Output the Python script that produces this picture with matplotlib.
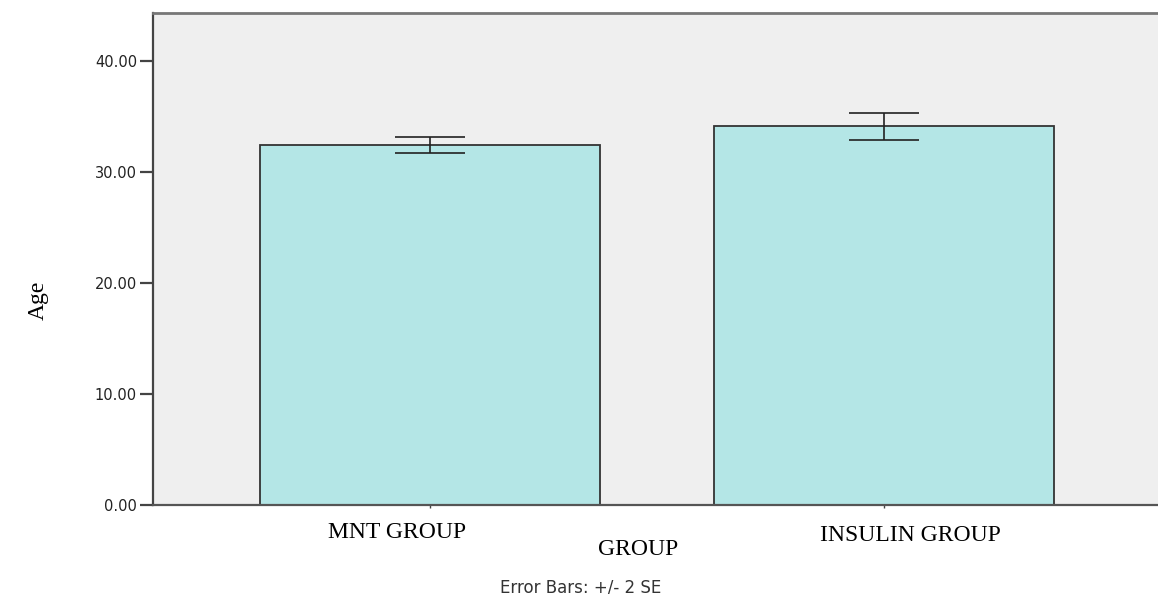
import matplotlib
matplotlib.use("Agg")
import matplotlib.pyplot as plt
import numpy as np

# mean age per group, with +/- 2 SE half-widths
groups = ["MNT GROUP", "INSULIN GROUP"]
mean_age = [32.43, 34.10]
err_2se = [0.75, 1.22]
yticks = [0, 10, 20, 30, 40]

W, H = 1158, 594
fig = plt.figure(figsize=(W / 100, H / 100), dpi=100)
ax = fig.add_axes([153 / W, (H - 505) / H, 1 - 153 / W, (505 - 13) / H])
ax.set_facecolor("#efefef")

x = np.arange(len(groups))
ax.bar(x, mean_age, width=0.75, color="#b4e6e6", edgecolor="#333333", linewidth=1.3, zorder=2)
ax.errorbar(x, mean_age, yerr=err_2se, fmt="none", ecolor="#222222",
            elinewidth=1.2, capsize=25, capthick=1.2, zorder=3)

ax.set_xlim(-0.611, 1.605)
ax.set_ylim(0, 44.32)
ax.set_yticks(yticks)
ax.set_yticklabels([f"{v:.2f}" for v in yticks], family="DejaVu Sans", fontsize=10.5, color="#222222")
ax.tick_params(axis="y", length=9.5, width=1.6, color="#444444", pad=2)
ax.set_xticks(x)
ax.set_xticklabels([])
ax.tick_params(axis="x", length=2, width=1, color="#444444")

ax.spines["right"].set_visible(False)
ax.spines["left"].set_color("#444444")
ax.spines["left"].set_linewidth(1.6)
ax.spines["top"].set_color("#777777")
ax.spines["top"].set_linewidth(2)
ax.spines["bottom"].set_color("#555555")
ax.spines["bottom"].set_linewidth(1.6)

serif = "Liberation Serif"
# group labels sit a little off the bar centres
fig.text(397 / W, 1 - 538 / H, groups[0], family=serif, fontsize=17, ha="center", va="baseline")
fig.text(910 / W, 1 - 541 / H, groups[1], family=serif, fontsize=17, ha="center", va="baseline")
fig.text(638 / W, 1 - 555 / H, "GROUP", family=serif, fontsize=17, ha="center", va="baseline")
fig.text(38 / W, 1 - 300 / H, "Age", family=serif, fontsize=17, rotation=90, ha="center", va="center")
fig.text(581 / W, 1 - 592 / H, "Error Bars: +/- 2 SE", family="DejaVu Sans", fontsize=12,
         color="#333333", ha="center", va="baseline")

fig.savefig("out.png", dpi=100, facecolor="white")
